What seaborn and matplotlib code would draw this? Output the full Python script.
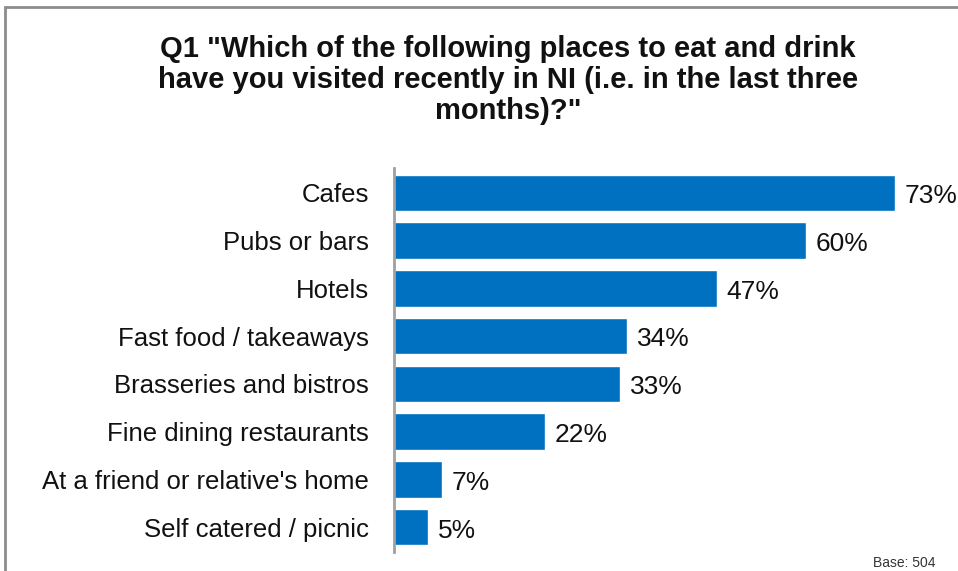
import matplotlib
matplotlib.use("Agg")
import matplotlib.pyplot as plt
from matplotlib.patches import Rectangle
import seaborn as sns
import pandas as pd

categories = [
    "Cafes",
    "Pubs or bars",
    "Hotels",
    "Fast food / takeaways",
    "Brasseries and bistros",
    "Fine dining restaurants",
    "At a friend or relative's home",
    "Self catered / picnic",
]
percentages = [73, 60, 47, 34, 33, 22, 7, 5]
title_text = ('Q1 "Which of the following places to eat and drink\n'
              'have you visited recently in NI (i.e. in the last three\n'
              'months)?"')
base_text = "Base: 504"

df = pd.DataFrame({"place": categories, "pct": percentages})

sns.set_theme(style="white")
plt.rcParams["font.family"] = ["Liberation Sans", "DejaVu Sans"]

W, H = 958, 571
fig = plt.figure(figsize=(W / 100, H / 100), dpi=100)
ax = fig.add_axes([394 / W, 1 - 552 / H, (943 - 394) / W, (552 - 168) / H])

sns.barplot(data=df, x="pct", y="place", orient="h", color="#0070C0",
            saturation=1, width=0.76, ax=ax)

ax.set_xlim(0, 80)
ax.set_ylim(7.52, -0.52)
ax.set_xlabel("")
ax.set_ylabel("")
ax.set_xticks([])
ax.tick_params(axis="y", length=0, pad=18, labelsize=18.5, labelcolor="#111111")
for lbl in ax.get_yticklabels():
    lbl.set_y(lbl.get_position()[1])
for s in ["top", "right", "bottom"]:
    ax.spines[s].set_visible(False)
ax.spines["left"].set_color("#A0A0A0")
ax.spines["left"].set_linewidth(2)

for i, v in enumerate(percentages):
    ax.text(v + 1.4, i + 0.07, f"{v}%", va="center", ha="left", fontsize=19,
            color="#111111")

fig.text(508 / W, 1 - 80 / H, title_text, ha="center", va="center",
         fontsize=21, fontweight="bold", linespacing=1.15, color="#111111")

fig.text(873 / W, 1 - 563 / H, base_text, ha="left", va="center",
         fontsize=10, color="#333333")

# Gray frame running off the right and bottom edges
fig.patches.append(Rectangle((4.5 / W, -0.1), 1.1, 1 - 6.5 / H + 0.1,
                             transform=fig.transFigure, fill=False,
                             edgecolor="#8C8C8C", linewidth=2))

fig.savefig("out.png", dpi=100)
